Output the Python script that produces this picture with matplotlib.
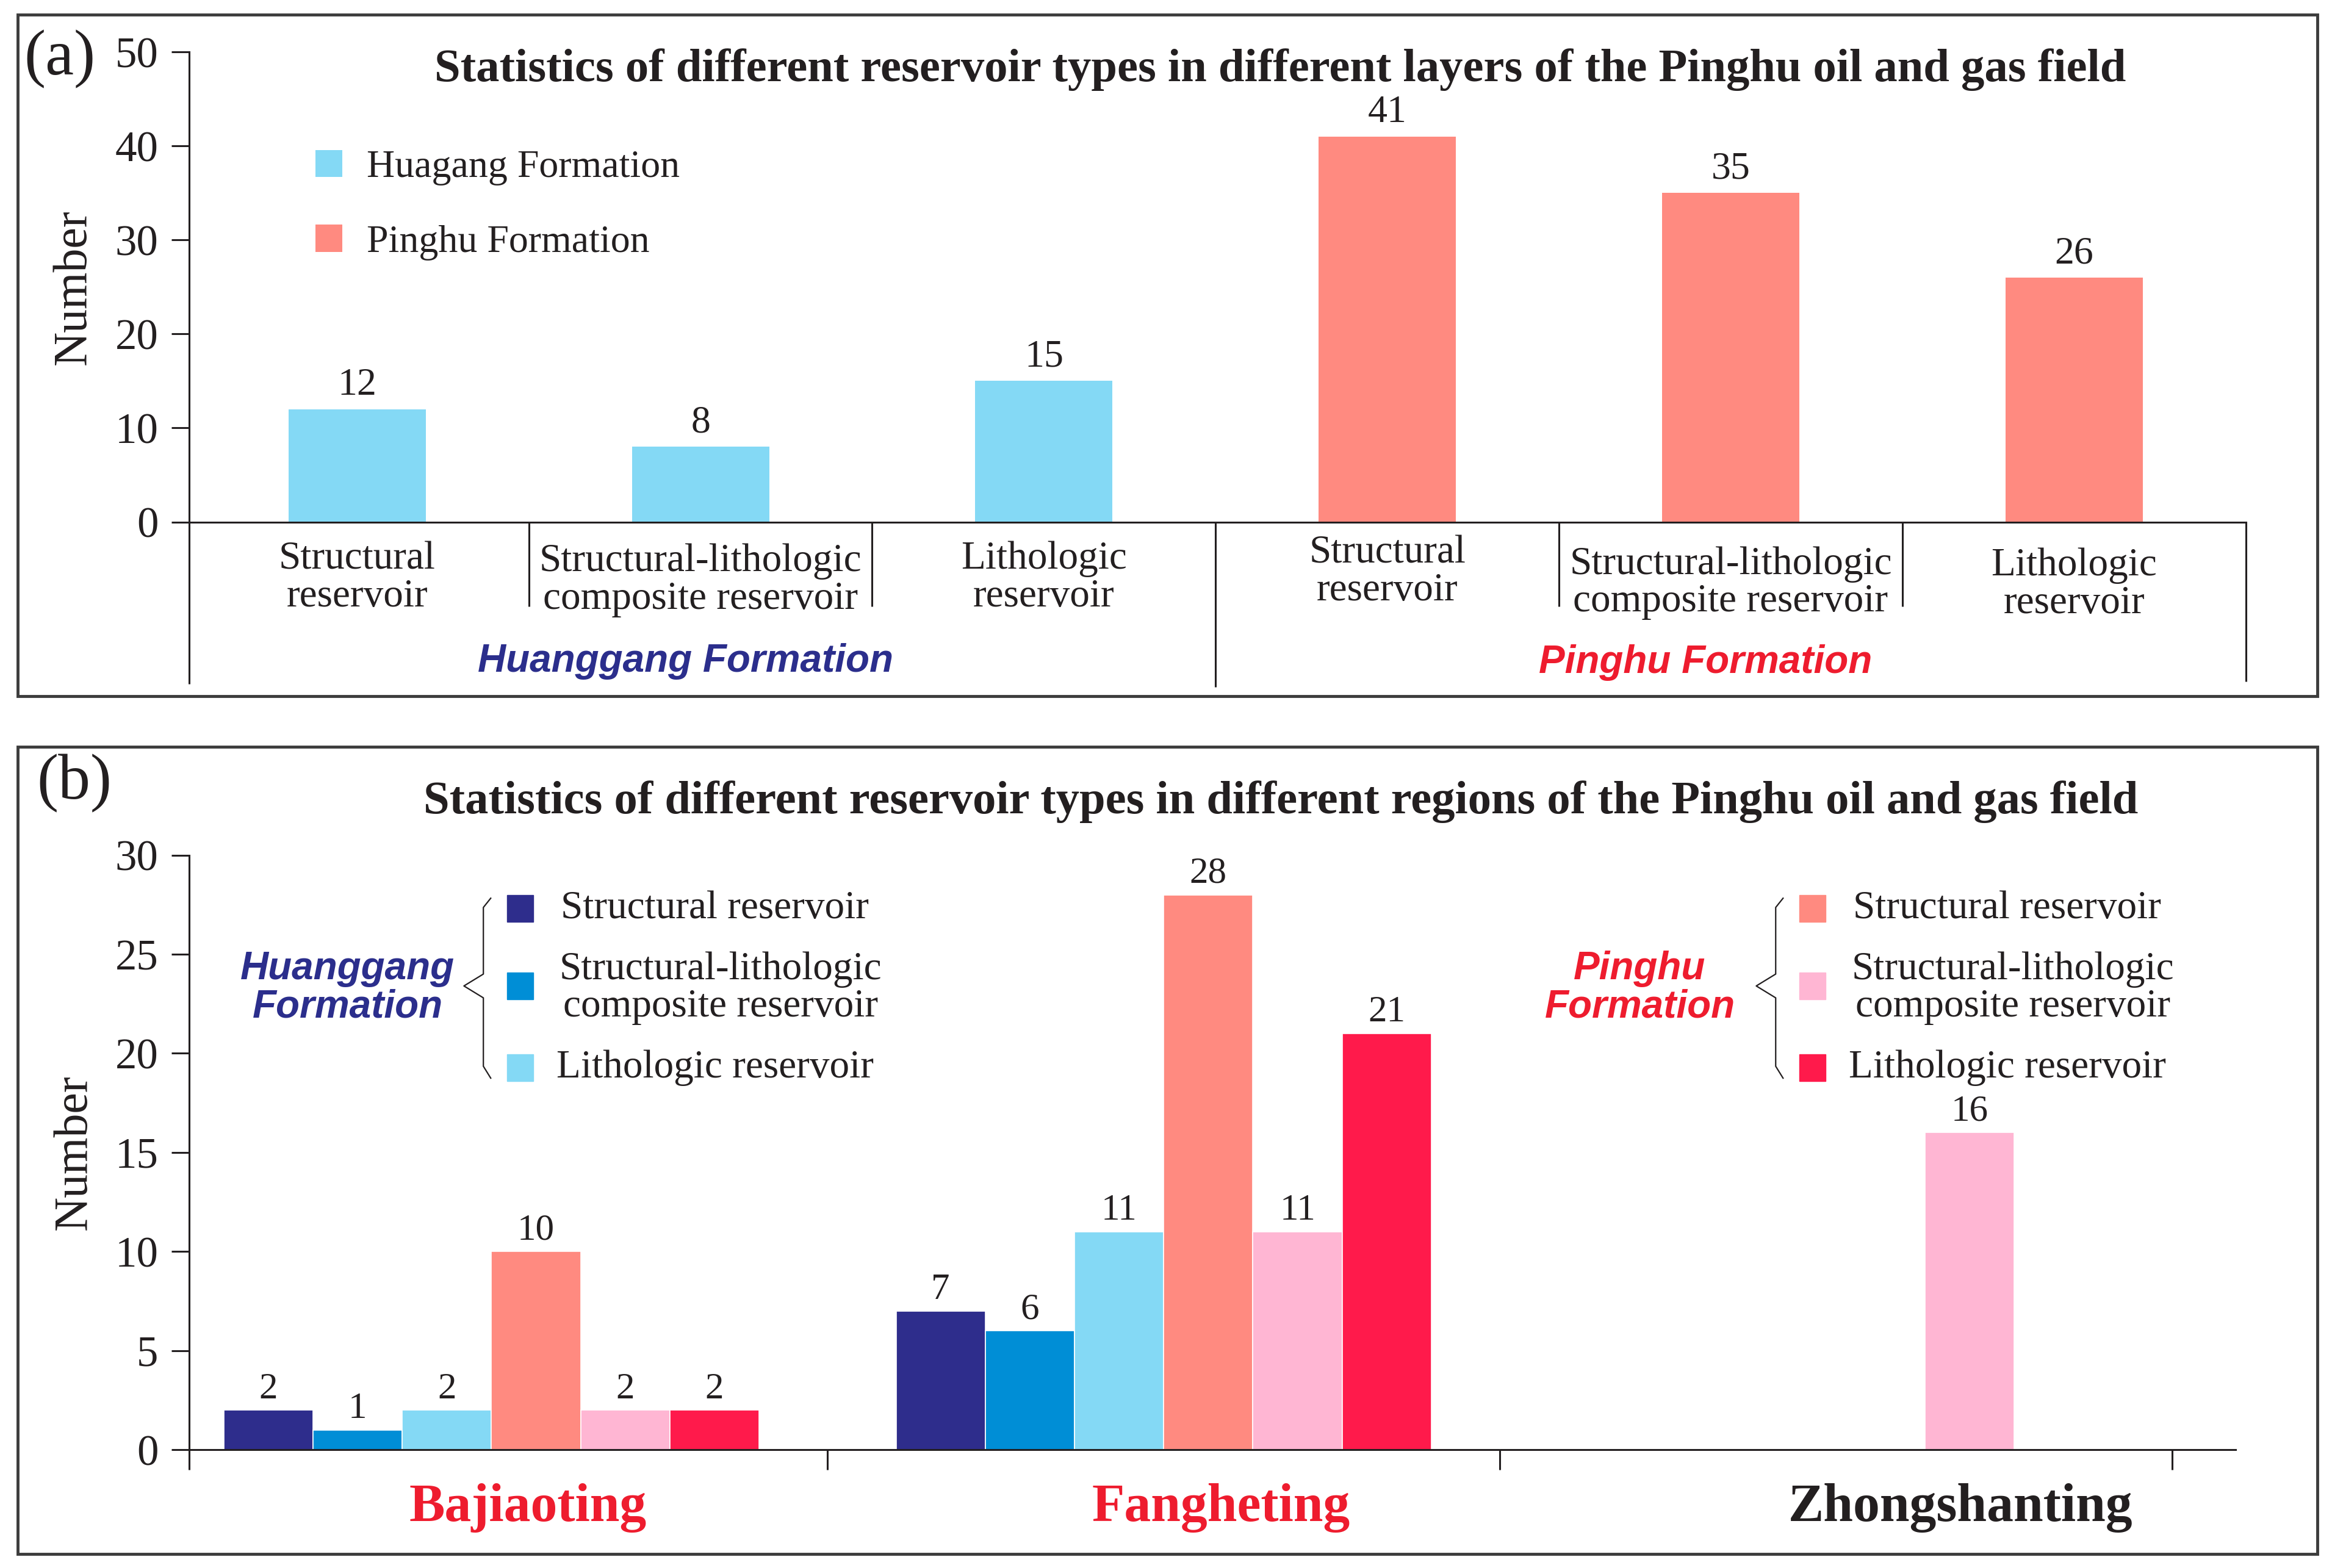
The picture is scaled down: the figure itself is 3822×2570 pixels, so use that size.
import numpy as np
import matplotlib.pyplot as plt
from matplotlib.patches import Rectangle
from matplotlib.transforms import blended_transform_factory

# ---------------- data ----------------
# (a) reservoir types per formation
type_names = ['Structural\nreservoir', 'Structural-lithologic\ncomposite reservoir', 'Lithologic\nreservoir']
huagang_counts = [12, 8, 15]
pinghu_counts = [41, 35, 26]

# (b) reservoir types per region
regions = ['Bajiaoting', 'Fangheting', 'Zhongshanting']
hg_structural = [2, 7, 0]
hg_struct_litho = [1, 6, 0]
hg_lithologic = [2, 11, 0]
ph_structural = [10, 28, 0]
ph_struct_litho = [2, 11, 16]
ph_lithologic = [2, 21, 0]
legend_names = ['Structural reservoir', 'Structural-lithologic\ncomposite reservoir', 'Lithologic reservoir']

title_a = 'Statistics of different reservoir types in different layers of the Pinghu oil and gas field'
title_b = 'Statistics of different reservoir types in different regions of the Pinghu oil and gas field'

# ---------------- style ----------------
INK = '#231F20'
SERIF = 'Liberation Serif'
SANS = 'Liberation Sans'
BLUE_TXT = '#2B2E8C'
RED_TXT = '#EE1C2E'
c_huagang = '#84D9F5'
c_pinghu = '#FF8A80'
colors_b = ['#2E2D8C', '#008ED6', '#84D9F5', '#FF8A80', '#FFB6D3', '#FF1A4B']
region_colors = [RED_TXT, RED_TXT, INK]

plt.rcParams['font.family'] = [SERIF, 'DejaVu Serif']

fig = plt.figure(figsize=(38.22, 25.70), dpi=100)

# layout measured on a 1568 x 1054 grid
W, H = 1568.0, 1054.4


def fx(x):
    return x / W


def fy(y):
    return 1 - y / H


def fit_width(t, target_px):
    r = fig.canvas.get_renderer()
    w = t.get_window_extent(r).width
    t.set_fontsize(t.get_fontsize() * target_px / w)


def style_axes(ax):
    for s in ['top', 'right']:
        ax.spines[s].set_visible(False)
    for s in ['left', 'bottom']:
        ax.spines[s].set_linewidth(2.2)
        ax.spines[s].set_color(INK)
    ax.tick_params(axis='y', direction='out', length=21, width=2.2, pad=15,
                   labelsize=51, colors=INK)
    ax.set_ylabel('Number', fontsize=56, color=INK, va='center')
    ax.yaxis.set_label_coords(-0.056, 0.5)
    ax.patch.set_visible(False)


# panel frames
for top, bot in [(10, 468), (502, 1045)]:
    fig.add_artist(Rectangle((fx(12), fy(bot)), fx(1558) - fx(12), fy(top) - fy(bot),
                             transform=fig.transFigure, fill=False, lw=3.5, ec='#3C3C3C'))

# ================= (a) =================
ax1 = fig.add_axes([fx(127), fy(351), fx(1510) - fx(127), fy(35) - fy(351)])
xa = np.arange(6)
b1 = ax1.bar(xa[:3], huagang_counts, 0.4, color=c_huagang, label='Huagang Formation')
b2 = ax1.bar(xa[3:], pinghu_counts, 0.4, color=c_pinghu, label='Pinghu Formation')
for c in (b1, b2):
    ax1.bar_label(c, padding=7, fontsize=46, color=INK)
ax1.set_xlim(-0.49, 5.5)
ax1.set_ylim(0, 50)
ax1.set_yticks(range(0, 51, 10))
ax1.set_xticks([])
style_axes(ax1)

tr1 = blended_transform_factory(ax1.transData, ax1.transAxes)
# separators under the axis
for x, y in [(-0.49, -0.345), (0.5, -0.18), (1.5, -0.18), (2.5, -0.351),
             (3.5, -0.18), (4.5, -0.18), (5.5, -0.339)]:
    ax1.plot([x, x], [0, y], transform=tr1, color=INK, lw=2.2, clip_on=False,
             solid_capstyle='butt')
cat_y = [-0.119, -0.124, -0.119, -0.106, -0.130, -0.133]
for i, name in enumerate(type_names * 2):
    ax1.text(i, cat_y[i], name, transform=tr1, ha='center', va='center',
             fontsize=47, linespacing=1.05, color=INK)
ax1.text(0.957, -0.296, 'Huanggang Formation', transform=tr1, ha='center', va='center',
         family=SANS, weight='bold', style='italic', fontsize=46, color=BLUE_TXT)
ax1.text(3.927, -0.299, 'Pinghu Formation', transform=tr1, ha='center', va='center',
         family=SANS, weight='bold', style='italic', fontsize=46, color=RED_TXT)

leg = ax1.legend(loc='center left', bbox_to_anchor=(0.0615, 0.674), frameon=False,
                 fontsize=46, handlelength=0.69, handleheight=0.69, handletextpad=0.62,
                 labelspacing=1.0, borderpad=0, borderaxespad=0)
for t in leg.get_texts():
    t.set_color(INK)

t = fig.text(fx(861), fy(47), title_a, ha='center', va='center', fontsize=48,
             weight='bold', color=INK)
fit_width(t, 2771)
fig.text(fx(40), fy(40), '(a)', ha='center', va='center', fontsize=76, color=INK)

# ================= (b) =================
ax2 = fig.add_axes([fx(127), fy(975), fx(1503) - fx(127), fy(575) - fy(975)])
xb = np.arange(3)
w = 0.1327
series = [hg_structural, hg_struct_litho, hg_lithologic, ph_structural, ph_struct_litho, ph_lithologic]
for k, (vals, col) in enumerate(zip(series, colors_b)):
    bars = ax2.bar(xb + (k - 2.5) * w, vals, w, color=col, edgecolor='white', linewidth=1.2)
    ax2.bar_label(bars, labels=[str(v) if v else '' for v in vals], padding=5,
                  fontsize=44, color=INK)
ax2.set_xlim(-0.45, 2.594)
ax2.set_ylim(0, 30)
ax2.set_yticks(range(0, 31, 5))
style_axes(ax2)
ax2.set_xticks([-0.45, 0.5, 1.5, 2.5])
ax2.tick_params(axis='x', direction='out', length=24, width=2.2, labelbottom=False, colors=INK)

tr2 = blended_transform_factory(ax2.transData, ax2.transAxes)
for i, (name, col, off) in enumerate(zip(regions, region_colors, [0.054, 0.085, 0.185])):
    ax2.text(i + off, -0.097, name, transform=tr2, ha='center', va='center',
             fontsize=63, weight='bold', color=col)


def group_legend(ax, x_sq, formation, fcolor, cols):
    tr = ax.transAxes
    rows = [0.91, 0.78, 0.6425]
    sq_w, sq_h = 0.0128, 0.045
    for y, col in zip(rows, cols):
        ax.add_patch(Rectangle((x_sq, y - sq_h / 2), sq_w, sq_h, transform=tr,
                               color=col, clip_on=False))
    ax.text(x_sq + 0.0262, rows[0], legend_names[0], transform=tr, ha='left', va='center',
            fontsize=47, color=INK)
    ax.text(x_sq + 0.1044, 0.7763, legend_names[1], transform=tr, ha='center', va='center',
            multialignment='center', fontsize=47, linespacing=1.03, color=INK)
    ax.text(x_sq + 0.024, rows[2], legend_names[2], transform=tr, ha='left', va='center',
            fontsize=47, color=INK)
    bx = x_sq - 0.0116
    ax.plot([bx + 0.0036, bx, bx, bx - 0.0095, bx, bx, bx + 0.0036],
            [0.9275, 0.912, 0.80, 0.78, 0.76, 0.645, 0.625],
            transform=tr, color=INK, lw=1.6, clip_on=False)
    ax.text(x_sq - 0.078, 0.7763, formation, transform=tr, ha='center', va='center',
            multialignment='center', family=SANS, weight='bold', style='italic',
            fontsize=46, linespacing=1.05, color=fcolor)


group_legend(ax2, 0.1555, 'Huanggang\nFormation', BLUE_TXT, colors_b[:3])
group_legend(ax2, 0.787, 'Pinghu\nFormation', RED_TXT, colors_b[3:])

t = fig.text(fx(861), fy(539), title_b, ha='center', va='center', fontsize=48,
             weight='bold', color=INK)
fit_width(t, 2810)
fig.text(fx(50), fy(527), '(b)', ha='center', va='center', fontsize=76, color=INK)

fig.savefig('out.png', dpi=100)
